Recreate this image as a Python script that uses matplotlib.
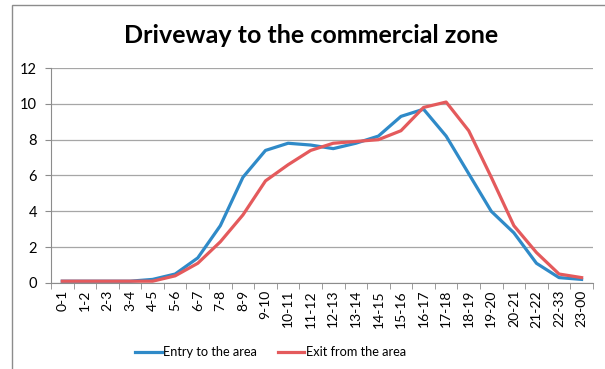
import matplotlib
matplotlib.use("Agg")
import matplotlib.pyplot as plt
from matplotlib.patches import Rectangle

plt.rcParams['font.family'] = ['Lato', 'DejaVu Sans']

# hourly intervals
hours = ['0-1', '1-2', '2-3', '3-4', '4-5', '5-6', '6-7', '7-8', '8-9', '9-10',
         '10-11', '11-12', '12-13', '13-14', '14-15', '15-16', '16-17', '17-18',
         '18-19', '19-20', '20-21', '21-22', '22-33', '23-00']

entry = [0.1, 0.1, 0.1, 0.1, 0.2, 0.5, 1.4, 3.2, 5.9, 7.4, 7.8, 7.7,
         7.5, 7.8, 8.2, 9.3, 9.7, 8.2, 6.1, 4.0, 2.8, 1.1, 0.3, 0.2]
exit_ = [0.1, 0.1, 0.1, 0.1, 0.1, 0.4, 1.1, 2.3, 3.8, 5.7, 6.6, 7.4,
         7.8, 7.9, 8.0, 8.5, 9.8, 10.1, 8.5, 5.9, 3.2, 1.7, 0.5, 0.3]

fig = plt.figure(figsize=(6.05, 3.69), dpi=100)
ax = fig.add_axes([0.0843, 0.2331, 0.8957, 0.5826])

# outer chart frame (left and top edges visible)
fig.patches.append(Rectangle((12 / 605, -0.05), 1.0, 1 - 5 / 369 + 0.05,
                             transform=fig.transFigure, fill=False,
                             edgecolor='#8c8c8c', linewidth=1.0))

x = list(range(len(hours)))
ax.plot(x, entry, color='#2F8AC8', linewidth=2.3, label='Entry to the area')
ax.plot(x, exit_, color='#E45A5C', linewidth=2.3, label='Exit from the area')

ax.set_xlim(-0.5, len(hours) - 0.5)
ax.set_ylim(0, 12)
ax.set_yticks(range(0, 13, 2))
ax.grid(axis='y', color='#a6a6a6', linewidth=0.9)
ax.set_axisbelow(True)

ax.set_xticks(x)
ax.set_xticklabels(hours, rotation=90, fontsize=10)
ax.set_xticks([i - 0.5 for i in range(len(hours) + 1)], minor=True)
ax.tick_params(axis='x', which='major', length=0, pad=5)
ax.tick_params(axis='x', which='minor', length=4, color='#8c8c8c')
ax.tick_params(axis='y', length=4, color='#8c8c8c', labelsize=10.5, pad=6)

for s in ['top', 'right']:
    ax.spines[s].set_visible(False)
for s in ['left', 'bottom']:
    ax.spines[s].set_color('#8c8c8c')

fig.text(0.514, 0.905, 'Driveway to the commercial zone', ha='center',
         va='center', fontsize=18, fontweight='bold')

fig.legend(loc='center', bbox_to_anchor=(0.447, 0.045), ncol=2, frameon=False,
           fontsize=9.2, handlelength=2.1, handletextpad=0.1, columnspacing=1.6)

fig.savefig('out.png', dpi=100)
